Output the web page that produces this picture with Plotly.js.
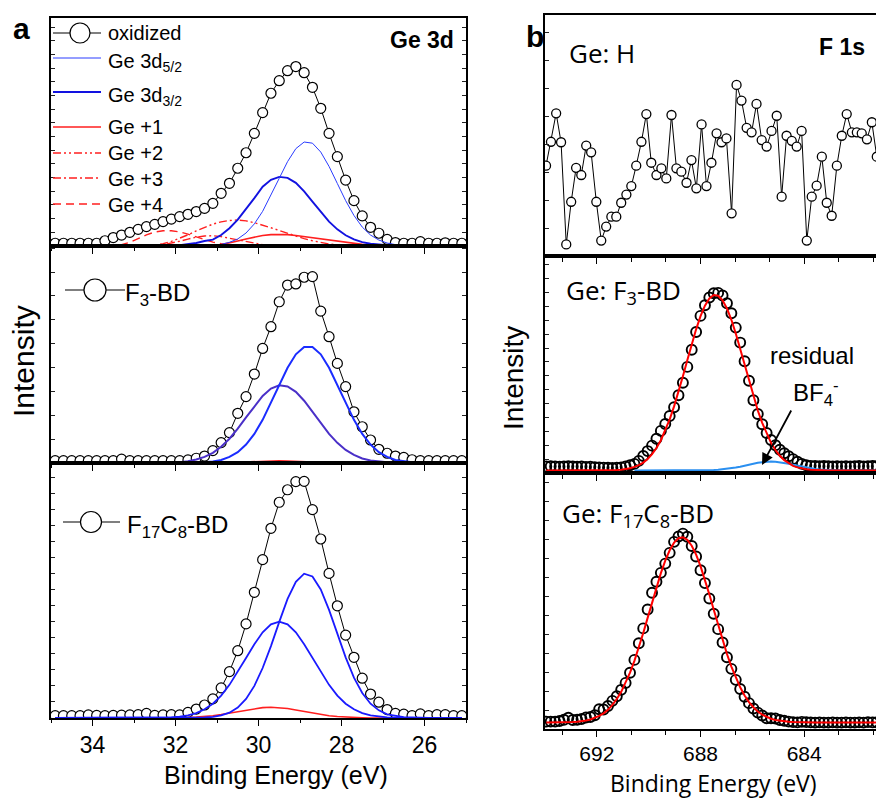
<!DOCTYPE html>
<html><head><meta charset="utf-8">
<script src="https://cdn.plot.ly/plotly-3.0.1.min.js"></script>
<style>html,body{margin:0;padding:0;background:#fff}#chart{width:876px;height:798px}</style>
</head><body><div id="chart"></div>
<script>
// ---------- Panel a: Ge 3d (binding energy, eV) ----------
const energyA = [34.9,34.7,34.5,34.3,34.1,33.9,33.7,33.5,33.3,33.1,32.9,32.7,32.5,32.3,32.1,31.9,31.7,31.5,31.3,31.1,30.9,30.7,30.5,30.3,30.1,29.9,29.7,29.5,29.3,29.1,28.9,28.7,28.5,28.3,28.1,27.9,27.7,27.5,27.3,27.1,26.9,26.7,26.5,26.3,26.1,25.9,25.7,25.5,25.3,25.1];

// oxidized sample
const oxData = [1.2,1.2,1.2,1.2,1.2,1.2,2.3,3.7,4.8,6.0,7.3,8.5,9.5,10.7,11.8,12.9,13.9,15.1,16.5,18.7,23.1,27.5,34.1,40.9,49.4,58.5,67.0,72.5,76.9,78.7,76.0,69.6,60.4,49.4,39.2,28.9,19.9,13.2,8.2,5.6,2.9,1.5,1.2,1.2,1.9,1.2,1.2,1.4,1.2,1.2];
const oxD52 = [0,0,0,0,0,0,0,0,0,0,0,0,0,0,0,0,0,0,0,0.4,0.7,1.6,3.1,5.7,9.7,15.2,22.1,29.7,37.0,42.7,45.6,45.1,41.2,34.9,27.4,19.9,13.4,8.3,4.8,2.6,1.3,0.6,0.3,0.1,0,0,0,0,0,0];
const oxD32 = [0,0,0,0,0,0,0,0,0,0,0,0,0,0,0.2,0.4,0.7,1.3,2.2,2.8,4.8,7.8,11.6,16.2,21.0,26.0,29.0,30.3,29.9,27.7,24.0,19.5,14.9,10.7,7.3,4.7,2.9,1.7,1.0,0.5,0.3,0.1,0,0,0,0,0,0,0,0];
const oxGe1 = [0,0,0,0,0,0,0,0,0,0,0,0,0,0,0,0,0,0,0,0.2,0.6,1.3,2.2,3.1,3.9,4.6,5.0,5.1,5.0,4.6,4.1,3.5,2.9,2.4,1.9,1.4,1.0,0.7,0.4,0.2,0.1,0,0,0,0,0,0,0,0,0];
const oxGe2 = [0,0,0,0,0,0,0,0,0,0,0,0.1,0.4,1.0,2.0,3.3,4.9,6.6,8.2,9.6,10.6,11.2,11.4,11.0,10.2,9.2,8.0,6.8,5.5,4.3,3.2,2.3,1.5,0.9,0.5,0.2,0,0,0,0,0,0,0,0,0,0,0,0,0,0];
const oxGe3 = [0,0,0,0,0,0,0,0,0,0,0,0,0.2,0.6,1.2,2.1,3.0,3.9,4.4,4.5,4.1,3.4,2.6,1.8,1.1,0.6,0.3,0.1,0,0,0,0,0,0,0,0,0,0,0,0,0,0,0,0,0,0,0,0,0,0];
const oxGe4 = [0,0,0,0,0,0,0,0.2,0.6,1.6,3.2,4.9,6.1,6.7,6.7,6.2,5.2,4.0,2.8,1.7,1.0,0.5,0.2,0,0,0,0,0,0,0,0,0,0,0,0,0,0,0,0,0,0,0,0,0,0,0,0,0,0,0];

// F3-BD sample
const f3Data = [1.1,1.1,1.1,1.1,1.1,1.1,1.1,1.1,1.8,1.1,1.1,1.1,1.1,1.1,1.1,1.1,1.4,2.2,3.2,5.7,9.4,14.0,22.9,30.6,41.0,52.8,62.8,74.3,82.0,82.5,85.6,85.9,70.0,58.2,45.9,35.2,23.6,16.7,10.6,6.3,4.5,3.2,2.6,1.5,1.1,1.1,1.1,1.1,1.1,1.1];
const f3D52 = [0,0,0,0,0,0,0,0,0,0,0,0,0,0,0,0,0,0.1,0.3,0.7,1.4,2.8,5.0,8.5,13.4,19.9,27.7,36.0,43.9,50.1,53.5,53.5,50.1,43.9,36.0,27.7,19.9,13.4,8.5,5.0,2.8,1.4,0.7,0.3,0.1,0,0,0,0,0];
const f3D32 = [0,0,0,0,0,0,0,0,0,0,0,0,0,0,0.2,0.4,0.8,1.6,2.8,4.7,7.5,11.2,15.8,21.0,26.2,30.9,34.3,35.8,35.3,32.8,28.7,23.6,18.3,13.4,9.3,6.0,3.7,2.1,1.2,0.6,0.3,0.2,0.1,0,0,0,0,0,0,0];
const f3Ge1 = [0,0,0,0,0,0,0,0,0,0,0,0,0,0,0,0,0,0,0,0,0.1,0.2,0.35,0.5,0.7,0.9,1.0,1.0,0.9,0.7,0.5,0.35,0.2,0.1,0,0,0,0,0,0,0,0,0,0,0,0,0,0,0,0];

// F17C8-BD sample
const f17Data = [0.9,0.9,0.9,0.9,1.2,1.0,0.9,1.0,1.1,1.2,1.3,1.8,1.0,1.2,1.3,1.2,2.2,3.5,5.1,7.5,11.8,18.2,26.4,36.9,49.3,62.1,74.4,84.6,89.5,92.7,92.8,81.7,70.2,56.7,44.0,32.5,23.8,15.6,9.4,6.2,3.3,1.8,1.5,0.9,1.6,0.9,1.3,1.3,0.9,0.9];
const f17D52 = [0,0,0,0,0,0,0,0,0,0,0,0,0,0,0,0,0,0,0.2,0.4,1.0,2.1,4.1,7.5,12.6,19.6,28.2,37.7,46.7,53.4,56.6,55.5,50.4,42.4,33.0,23.8,15.8,9.8,5.6,3.0,1.4,0.7,0.3,0.2,0,0,0,0,0,0];
const f17D32 = [0,0,0,0,0,0,0,0,0,0,0,0,0,0.1,0.25,0.5,1.0,1.9,3.4,5.6,8.8,13.0,18.0,23.5,28.9,33.6,36.7,37.8,36.7,33.6,28.9,23.5,18.0,13.0,8.8,5.6,3.4,1.9,1.0,0.5,0.25,0.1,0,0,0,0,0,0,0,0];
const f17Ge1 = [0,0,0,0,0,0,0,0,0,0,0,0,0,0,0,0.1,0.18,0.34,0.57,0.91,1.36,1.92,2.55,3.17,3.71,4.07,4.2,4.07,3.71,3.17,2.55,1.92,1.36,0.91,0.57,0.34,0.18,0.1,0,0,0,0,0,0,0,0,0,0,0,0];

// ---------- Panel b: F 1s ----------
const energyH = [693.96,693.77,693.57,693.38,693.18,692.99,692.80,692.60,692.41,692.22,692.02,691.83,691.64,691.44,691.25,691.06,690.86,690.67,690.48,690.28,690.09,689.90,689.70,689.51,689.32,689.12,688.93,688.74,688.54,688.35,688.16,687.96,687.77,687.58,687.38,687.19,687.00,686.80,686.61,686.42,686.22,686.03,685.84,685.64,685.45,685.26,685.06,684.87,684.68,684.48,684.29,684.10,683.90,683.71,683.52,683.32,683.13,682.94,682.74,682.55,682.36,682.16,681.97,681.78,681.58,681.39,681.20];
const geHData = [37.5,47.4,59.2,47.2,4.8,22.5,36.6,33.6,45.8,43.0,22.5,6.4,12.2,16.3,16.3,22.1,25.5,29.0,37.5,47.4,58.9,38.7,33.6,36.4,32.2,58.5,36.4,35.0,30.4,39.8,28.1,54.6,29.0,38.7,50.9,47.2,48.8,17.7,71.0,64.5,53.2,51.3,63.1,48.1,45.4,51.9,58.2,24.6,49.9,47.8,45.4,51.9,6.4,24.6,29.2,41.2,22.1,16.7,37.5,49.9,58.9,51.3,51.3,50.9,48.4,55.5,41.2];

const energyB = [693.95,693.78,693.61,693.44,693.27,693.10,692.93,692.76,692.59,692.42,692.25,692.08,691.91,691.74,691.57,691.40,691.23,691.06,690.89,690.72,690.55,690.38,690.21,690.04,689.87,689.70,689.53,689.36,689.19,689.02,688.85,688.68,688.51,688.34,688.17,688.00,687.83,687.66,687.49,687.32,687.15,686.98,686.81,686.64,686.47,686.30,686.13,685.96,685.79,685.62,685.45,685.28,685.11,684.94,684.77,684.60,684.43,684.26,684.09,683.92,683.75,683.58,683.41,683.24,683.07,682.90,682.73,682.56,682.39,682.22,682.05,681.88,681.71,681.54,681.37,681.20];
const bF3Data = [3.0,3.1,3.0,2.9,3.0,3.1,3.0,2.9,3.0,2.8,2.9,2.7,2.6,2.5,2.4,2.3,2.4,2.6,3.0,3.6,4.2,5.6,7.8,10.1,12.6,15.8,19.4,22.6,26.3,30.3,35.8,41.6,48.9,56.8,65.0,72.4,77.3,80.9,82.8,83.0,81.8,78.2,73.6,67.0,60.1,51.5,42.5,33.5,27.2,22.5,18.4,15.2,12.8,10.7,9.1,7.7,6.4,5.2,4.2,3.6,3.3,3.2,3.1,3.2,3.1,3.0,3.1,3.0,3.1,3.0,3.1,3.2,3.0,3.1,3.2,3.1];
const bF3Fit = [1.1,1.1,1.1,1.1,1.1,1.1,1.1,1.1,1.1,1.1,1.1,1.1,1.1,1.1,1.2,1.3,1.4,1.5,1.8,2.2,2.8,3.6,4.8,6.5,8.7,11.5,15.1,19.5,24.7,30.7,37.4,44.6,52.0,59.3,66.2,72.3,77.1,80.4,82.0,81.7,79.6,75.8,70.6,64.3,57.2,49.8,42.4,35.3,28.8,23.1,18.1,13.9,10.6,7.95,5.9,4.4,3.3,2.6,2.05,1.7,1.46,1.3,1.2,1.15,1.1,1.1,1.1,1.1,1.1,1.1,1.1,1.1,1.1,1.1,1.1,1.1];
const bF3BF4 = [null,null,null,null,null,null,null,null,null,null,null,null,null,null,null,null,null,null,null,null,1.1,1.1,1.1,1.1,1.1,1.1,1.1,1.1,1.1,1.1,1.1,1.1,1.1,1.1,1.1,1.15,1.2,1.25,1.34,1.46,1.64,1.87,2.16,2.5,2.9,3.4,3.85,4.3,4.7,5.0,5.2,5.3,5.2,5.0,4.7,4.3,3.85,3.4,2.9,2.5,2.16,1.87,1.64,1.46,1.34,1.25,1.2,1.15,1.1,1.1,1.1,1.1,1.1,1.1,1.1,1.1];
const bF17Data = [2.9,2.9,2.9,3.1,3.6,4.4,3.5,3.6,3.9,4.5,4.7,5.4,7.7,7.6,9.0,11.0,12.8,15.3,18.0,22.0,27.0,33.5,39.3,46.7,53.2,57.5,61.0,64.6,68.8,73.1,75.2,76.3,75.1,71.5,67.4,62.0,57.0,51.0,45.0,39.0,33.8,28.0,23.5,19.2,15.6,12.6,10.1,8.0,6.4,5.3,4.2,4.2,4.1,3.5,3.2,2.9,2.7,2.6,2.8,2.7,2.6,2.5,2.6,2.5,2.5,2.6,2.5,2.5,2.6,2.5,2.5,2.6,2.5,2.7,2.6,2.6];
const bF17Fit = [2.5,2.5,2.5,2.5,2.5,2.6,2.7,2.8,3.0,3.3,3.7,4.3,5.1,6.1,7.5,9.4,11.7,14.5,18.0,22.0,26.6,31.8,37.5,43.4,49.4,55.3,60.9,65.8,69.8,72.8,74.5,74.9,73.9,71.6,68.1,63.6,58.3,52.6,46.6,40.6,34.8,29.3,24.4,20.0,16.3,13.1,10.5,8.5,6.8,5.6,4.7,4.0,3.5,3.2,2.9,2.8,2.7,2.6,2.5,2.5,2.5,2.5,2.5,2.5,2.5,2.5,2.5,2.5,2.5,2.5,2.5,2.5,2.5,2.5,2.5,2.5];

// ---------- layout helpers (positions only) ----------
const W = 876, H = 798;
const fx = p => p / W;
const fy = p => 1 - p / H;
const SANS = 'Liberation Sans, Arial, sans-serif';
const OPEN = 'Open Sans, Noto Sans, sans-serif';
const RED = '#ff1f1f';

function line(x, y, xa, ya, color, width, dash) {
  return {x: x, y: y, xaxis: xa, yaxis: ya, type: 'scatter', mode: 'lines',
    line: {color: color, width: width, dash: dash || 'solid'}, hoverinfo: 'skip', showlegend: false};
}
function dots(x, y, xa, ya) {
  return {x: x, y: y, xaxis: xa, yaxis: ya, type: 'scatter', mode: 'lines+markers',
    line: {color: 'black', width: 1}, marker: {symbol: 'circle', size: 10, color: 'white', line: {color: 'black', width: 1.2}},
    showlegend: false};
}
function openDots(x, y, xa, ya) {
  return {x: x, y: y, xaxis: xa, yaxis: ya, type: 'scatter', mode: 'markers',
    marker: {symbol: 'circle-open', size: 10, color: 'black', line: {width: 1.9}}, showlegend: false};
}

const DD = '8px,3px,2px,3px,2px,3px';
const DOT1 = '8px,3px,2px,3px';
const DASH = '8px,5px';

const traces = [
  // a top
  dots(energyA, oxData, 'x', 'y'),
  line(energyA, oxGe4, 'x', 'y', RED, 1.4, DASH),
  line(energyA, oxGe3, 'x', 'y', RED, 1.4, DOT1),
  line(energyA, oxGe2, 'x', 'y', RED, 1.4, DD),
  line(energyA, oxGe1, 'x', 'y', RED, 1.6),
  line(energyA, oxD32, 'x', 'y', '#1212e0', 1.9),
  line(energyA, oxD52, 'x', 'y', '#2a3cff', 1.0),
  // a middle
  dots(energyA, f3Data, 'x2', 'y2'),
  line(energyA, f3Ge1, 'x2', 'y2', RED, 1.6),
  line(energyA, f3D32, 'x2', 'y2', '#4a30c8', 2.0),
  line(energyA, f3D52, 'x2', 'y2', '#1a2cff', 2.0),
  // a bottom
  dots(energyA, f17Data, 'x3', 'y3'),
  line(energyA, f17Ge1, 'x3', 'y3', RED, 1.6),
  line(energyA, f17D32, 'x3', 'y3', '#1a1aff', 1.8),
  line(energyA, f17D52, 'x3', 'y3', '#1a1aff', 1.8),
  // b top
  {x: energyH, y: geHData, xaxis: 'x4', yaxis: 'y4', type: 'scatter', mode: 'lines+markers',
    line: {color: 'black', width: 1}, marker: {symbol: 'circle', size: 9, color: 'white', line: {color: 'black', width: 1.3}}, showlegend: false},
  // b middle
  openDots(energyB, bF3Data, 'x5', 'y5'),
  line(energyB, bF3BF4, 'x5', 'y5', '#2a8ff0', 2.0),
  line(energyB, bF3Fit, 'x5', 'y5', '#ff0000', 2.0),
  // b bottom
  openDots(energyB, bF17Data, 'x6', 'y6'),
  line(energyB, bF17Fit, 'x6', 'y6', '#ff0000', 2.0)
];

const AX = [fx(51), fx(466)];
const BX = [fx(545), 1];
function xA(anchor, labels) {
  return {domain: AX, anchor: anchor, range: [35, 25], showline: true, linecolor: 'black', linewidth: 1.6, mirror: true,
    ticks: 'outside', ticklen: 6, tickwidth: 1.2, tickcolor: 'black', dtick: 2, tick0: 0,
    minor: {dtick: 1, tick0: 0, ticks: 'outside', ticklen: 3.5, tickcolor: 'black', tickwidth: 1},
    showticklabels: labels, tickfont: {family: SANS, size: 23, color: 'black'}, showgrid: false, zeroline: false};
}
function xB(anchor, labels) {
  return {domain: BX, anchor: anchor, range: [694, 681.23], showline: true, linecolor: 'black', linewidth: 1.6, mirror: true,
    ticks: 'outside', ticklen: 6, tickwidth: 1.2, tickcolor: 'black', dtick: 4, tick0: 0,
    minor: {dtick: 4/3, tick0: 0, ticks: 'outside', ticklen: 4, tickcolor: 'black', tickwidth: 1},
    ticklabelstandoff: -1,
    showticklabels: labels, tickfont: {family: SANS, size: 21, color: 'black'}, showgrid: false, zeroline: false};
}
function yA(anchor, dom, dt) {
  return {domain: dom, anchor: anchor, range: [0, 100], showline: true, linecolor: 'black', linewidth: 1.6, mirror: 'ticks',
    ticks: 'inside', ticklen: 4, tickwidth: 1, tickcolor: '#222', dtick: dt, tick0: 0, showticklabels: false,
    showgrid: false, zeroline: false};
}
function yB(anchor, dom, dt) {
  return {domain: dom, anchor: anchor, range: [0, 100], showline: true, linecolor: 'black', linewidth: 1.6, mirror: false,
    ticks: 'inside', ticklen: 4, tickwidth: 1, tickcolor: '#222', dtick: dt, tick0: 0, showticklabels: false,
    showgrid: false, zeroline: false};
}

function ann(text, x, y, o) {
  o = o || {};
  return Object.assign({text: text, xref: 'paper', yref: 'paper', x: fx(x), y: fy(y), showarrow: false,
    xanchor: o.xa || 'left', yanchor: o.ya || 'middle',
    font: {family: o.family || SANS, size: o.size || 20, color: 'black'}}, o.extra || {});
}

const annotations = [
  ann('<b>a</b>', 21, 28, {xa: 'center', size: 30}),
  ann('<b>b</b>', 535, 37, {xa: 'center', size: 30}),
  ann('<b>Ge 3d</b>', 456, 40, {xa: 'right', size: 23}),
  ann('<b>F 1s</b>', 867, 47, {xa: 'right', size: 23}),
  // legend a
  ann('oxidized', 106, 33, {size: 20}),
  ann('Ge 3d<sub>5/2</sub>', 106, 62, {size: 20}),
  ann('Ge 3d<sub>3/2</sub>', 106, 97, {size: 20}),
  ann('Ge +1', 106, 127, {size: 20}),
  ann('Ge +2', 106, 153, {size: 20}),
  ann('Ge +3', 106, 179, {size: 20}),
  ann('Ge +4', 106, 205, {size: 20}),
  ann('F<sub>3</sub>-BD', 123, 294, {size: 24}),
  ann('F<sub>17</sub>C<sub>8</sub>-BD', 125, 526, {size: 24}),
  // panel b labels
  ann('Ge:&#160;H', 567, 53, {family: OPEN, size: 26}),
  ann('Ge:&#160;F<sub>3</sub>-BD', 564, 291, {family: OPEN, size: 26}),
  ann('Ge:&#160;F<sub>17</sub>C<sub>8</sub>-BD', 560, 514, {family: OPEN, size: 26}),
  ann('residual', 812, 355, {xa: 'center', size: 24}),
  ann('BF<sub>4</sub><sup>-</sup>', 791, 393, {size: 24}),
  // axis titles
  ann('Binding Energy (eV)', 276, 775, {xa: 'center', size: 25}),
  ann('Binding Energy (eV)', 713, 783, {xa: 'center', family: OPEN, size: 23}),
  ann('Intensity', 24, 361, {xa: 'center', size: 30, extra: {textangle: -90}}),
  ann('Intensity', 514, 378, {xa: 'center', size: 28, extra: {textangle: -90}}),
  // arrow to residual BF4- component
  {text: '', xref: 'paper', yref: 'paper', x: fx(762), y: fy(465), showarrow: true,
    axref: 'pixel', ayref: 'pixel', ax: 30, ay: -56, arrowhead: 2, arrowsize: 1.3, arrowwidth: 1.8, arrowcolor: 'black'}
];

function hline(x0, x1, y, color, width, dash) {
  return {type: 'line', xref: 'paper', yref: 'paper', x0: fx(x0), x1: fx(x1), y0: fy(y), y1: fy(y),
    line: {color: color, width: width, dash: dash || 'solid'}};
}
function circ(cx, cy, r) {
  return {type: 'circle', xref: 'paper', yref: 'paper', x0: fx(cx - r), x1: fx(cx + r), y0: fy(cy + r), y1: fy(cy - r),
    fillcolor: 'white', line: {color: 'black', width: 1.2}};
}
const shapes = [
  hline(53, 101, 33, 'black', 1.1), circ(80, 33, 10),
  hline(53, 101, 58, '#2a3cff', 1.0),
  hline(53, 101, 92, '#1212e0', 1.9),
  hline(53, 101, 127, RED, 1.6),
  hline(53, 101, 153, RED, 1.4, DD),
  hline(53, 101, 178, RED, 1.4, DOT1),
  hline(53, 101, 204, RED, 1.4, DASH),
  hline(65, 125, 290, 'black', 1.1), circ(95, 290, 11),
  hline(63, 120, 522, 'black', 1.1), circ(91, 522, 10.5)
];

const layout = {
  width: W, height: H, margin: {l: 0, r: 0, t: 0, b: 0},
  paper_bgcolor: 'white', plot_bgcolor: 'white', showlegend: false,
  font: {family: SANS, color: 'black'},
  xaxis: xA('y', false), xaxis2: xA('y2', false), xaxis3: xA('y3', true),
  yaxis: yA('x', [fy(246), fy(18)], 6),
  yaxis2: yA('x2', [fy(463), fy(246)], 11),
  yaxis3: yA('x3', [fy(718), fy(463)], 6.3),
  xaxis4: xB('y4', false), xaxis5: xB('y5', false), xaxis6: xB('y6', true),
  yaxis4: yB('x4', [fy(256), fy(15)], 11.6),
  yaxis5: yB('x5', [fy(473), fy(256)], 6.4),
  yaxis6: yB('x6', [fy(729), fy(473)], 7.4),
  annotations: annotations,
  shapes: shapes
};

Plotly.newPlot('chart', traces, layout, {displayModeBar: false, staticPlot: true});
</script>
</body></html>
